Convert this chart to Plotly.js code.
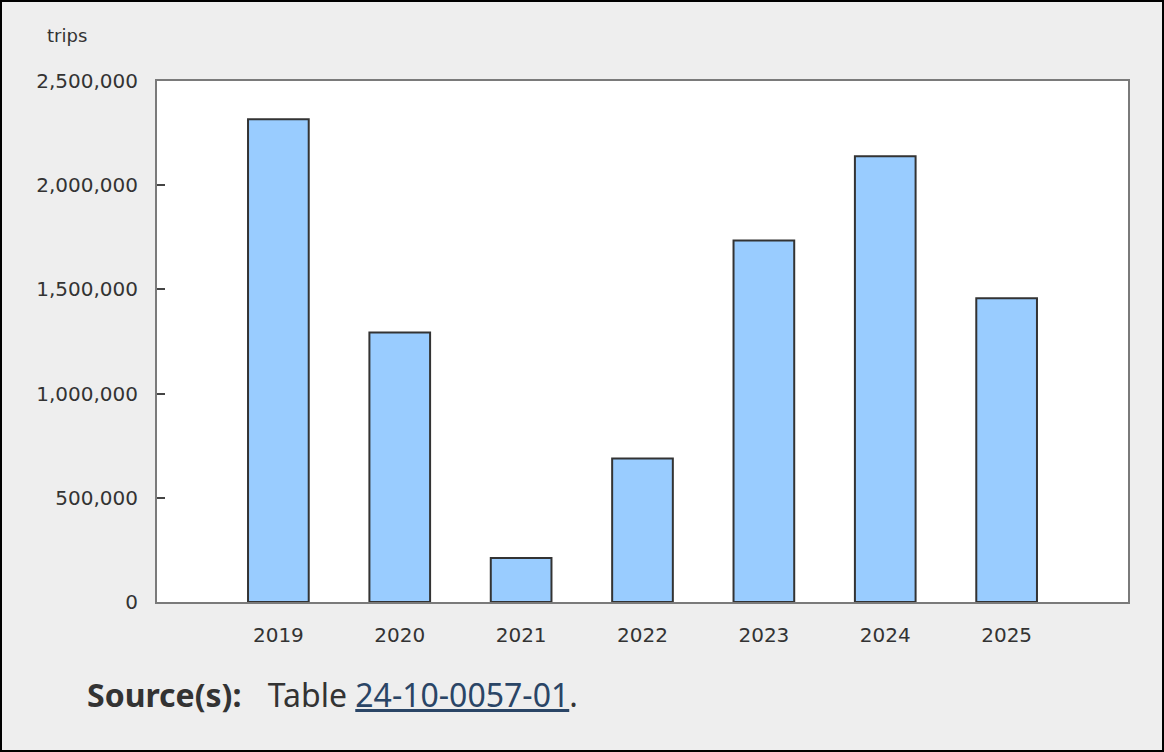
<!DOCTYPE html>
<html>
<head>
<meta charset="utf-8">
<script src="https://cdn.plot.ly/plotly-3.0.1.min.js"></script>
<style>
  html, body { margin: 0; padding: 0; background: #eeeeee; }
  #wrap { position: relative; width: 1164px; height: 752px; overflow: hidden; }
  #chart { position: absolute; left: 0; top: 0; width: 1164px; height: 752px; }
  #frame { position: absolute; left: 0; top: 0; width: 1164px; height: 752px; box-sizing: border-box; border: 2px solid #000; pointer-events: none; }
  #source { position: absolute; left: 87px; top: 675px; line-height: 40px; font-family: "Noto Sans", "Open Sans", sans-serif; font-size: 32px; color: #333; white-space: nowrap; }
  #source b { font-weight: 700; margin-right: 18px; }
  #source a { color: #2a4566; text-decoration: underline; }
</style>
</head>
<body>
<div id="wrap">
  <div id="chart"></div>
  <div id="frame"></div>
  <div id="source"><b>Source(s):</b> Table <a href="#">24-10-0057-01</a>.</div>
</div>
<script>
const years = ["2019", "2020", "2021", "2022", "2023", "2024", "2025"];
const trips = [2317000, 1293000, 211000, 688000, 1735000, 2139000, 1458000];
const yTickVals = [0, 500000, 1000000, 1500000, 2000000, 2500000];
const yTickText = ["0", "500,000", "1,000,000", "1,500,000", "2,000,000", "2,500,000"];
const yUnit = "trips";

const trace = {
  type: "bar",
  x: years,
  y: trips,
  width: 0.5,
  marker: { color: "#99ccff", line: { color: "#333333", width: 2 } },
  hoverinfo: "x+y"
};

const layout = {
  width: 1164,
  height: 752,
  margin: { l: 157, r: 36, t: 81, b: 150, pad: 0 },
  paper_bgcolor: "#eeeeee",
  plot_bgcolor: "#ffffff",
  showlegend: false,
  font: { family: "DejaVu Sans, Verdana, sans-serif", size: 20, color: "#333333" },
  xaxis: {
    type: "category",
    range: [-1, 7],
    showline: true, linecolor: "#7a7a7a", linewidth: 2, mirror: true,
    showgrid: false, zeroline: false, ticks: "",
    ticklabelstandoff: 14,
    tickfont: { size: 20, color: "#333333" },
    fixedrange: true
  },
  yaxis: {
    range: [0, 2500000],
    tickvals: yTickVals,
    ticktext: yTickText,
    showline: true, linecolor: "#7a7a7a", linewidth: 2, mirror: true,
    showgrid: false, zeroline: false,
    ticks: "inside", ticklen: 8, tickwidth: 2, tickcolor: "#444444",
    ticklabelstandoff: 13,
    tickfont: { size: 20, color: "#333333" },
    fixedrange: true
  },
  annotations: [{
    text: yUnit, xref: "paper", yref: "paper", x: -0.115, y: 1.088,
    xanchor: "left", yanchor: "middle", showarrow: false,
    font: { family: "DejaVu Sans, Verdana, sans-serif", size: 18, color: "#333333" }
  }]
};

Plotly.newPlot("chart", [trace], layout, { displayModeBar: false, staticPlot: true });
</script>
</body>
</html>
